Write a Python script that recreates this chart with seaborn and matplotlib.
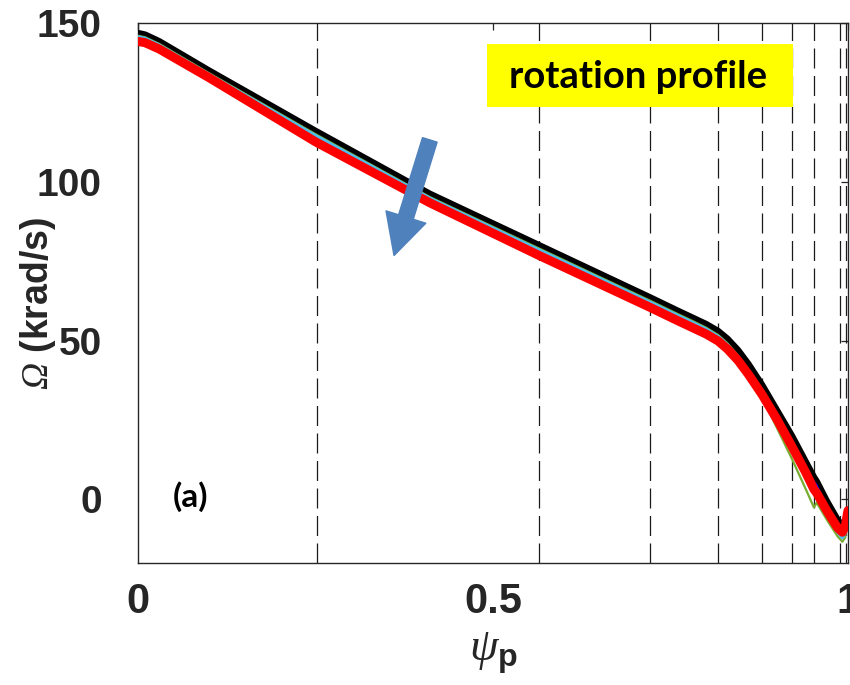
import matplotlib
matplotlib.use("Agg")
import matplotlib.pyplot as plt
import seaborn as sns
from matplotlib.patches import FancyArrowPatch, Rectangle

# ---------------- data ----------------
psi = [0, 0.01, 0.03, 0.1, 0.25, 0.411, 0.565, 0.721, 0.76, 0.78, 0.8, 0.817, 0.83,
       0.845, 0.86, 0.879, 0.9, 0.921, 0.94, 0.952, 0.956, 0.97, 0.985, 0.992,
       0.996, 1.0]

omega_black = [146.8, 146.3, 144.2, 135.0, 116.0, 96.2, 80.0, 63.6, 59.4, 57.3, 55.2, 53.0,
               50.6, 47.0, 42.5, 36.0, 28.0, 20.0, 12.0, 7.0, 5.6, -0.5, -6.3, -8.3,
               -7.0, -4.0]
omega_green = [146.0, 145.5, 143.4, 134.2, 115.0, 95.2, 79.0, 62.6, 58.4, 56.3, 54.1, 51.8,
               49.2, 45.3, 40.3, 32.0, 22.5, 12.8, 3.5, -2.5, -1.0, -6.3, -11.5, -13.3,
               -12.0, -6.0]
omega_cyan = [145.6, 145.1, 143.0, 133.8, 114.5, 94.8, 78.5, 62.1, 57.9, 55.8, 53.6, 51.3,
              48.7, 44.9, 40.2, 33.3, 24.6, 16.0, 7.8, 2.5, 1.5, -4.5, -10.0, -12.0,
              -10.5, -5.0]
omega_blue = [145.0, 144.6, 142.5, 133.2, 113.6, 94.2, 77.6, 61.3, 57.1, 55.0, 52.9, 50.7,
              48.2, 44.6, 40.2, 34.0, 26.2, 17.8, 9.8, 5.6, 4.5, -2.5, -8.0, -9.8,
              -8.0, -3.0]
omega_purple = [144.0, 143.5, 141.4, 132.4, 112.0, 92.8, 76.2, 59.9, 55.7, 53.6, 51.5, 49.3,
                46.8, 43.2, 38.8, 32.6, 24.8, 16.2, 8.2, 3.0, 1.5, -4.0, -9.3, -10.8,
                -9.0, -4.0]
omega_red = [144.2, 143.8, 141.8, 132.8, 112.6, 93.4, 76.8, 60.5, 56.3, 54.2, 52.1, 49.9,
             47.4, 43.8, 39.3, 33.0, 25.2, 16.7, 8.7, 3.2, 2.0, -3.5, -8.8, -10.3,
             -8.5, -3.5]

rational_psi = [0.252, 0.565, 0.721, 0.817, 0.879, 0.921, 0.952, 0.989, 0.997]

x_ticks = [0, 0.5, 1]
x_ticklabels = ["0", "0.5", "1"]
y_ticks = [0, 50, 100, 150]
y_ticklabels = ["0", "50", "100", "150"]

title_text = "rotation profile"
panel_text = "(a)"

# ---------------- style ----------------
sns.set_theme(style="white")
plt.rcParams["font.family"] = ["Liberation Sans", "DejaVu Sans"]
plt.rcParams["mathtext.fontset"] = "custom"
plt.rcParams["mathtext.it"] = "Liberation Serif:italic"
plt.rcParams["mathtext.rm"] = "Liberation Sans:bold"
plt.rcParams["mathtext.bf"] = "Liberation Sans:bold"
plt.rcParams["mathtext.sf"] = "Liberation Serif:italic"

fig = plt.figure(figsize=(8.5, 6.85), dpi=100)
ax = fig.add_axes([138 / 850, 1 - 563 / 685, 710 / 850, 540 / 685])

# dashed vertical lines
for xv in rational_psi:
    ax.axvline(xv, color="#1a1a1a", lw=0.9, ls=(0, (16, 6)), zorder=1)

series = [
    (omega_black, "#000000", 4.8),
    (omega_green, "#77ac30", 1.6),
    (omega_cyan, "#4dbeee", 2.6),
    (omega_blue, "#0000ff", 1.5),
    (omega_purple, "#7e2f8e", 1.5),
    (omega_red, "#ff0000", 6.5),
]
for vals, col, lw in series:
    sns.lineplot(x=psi, y=vals, color=col, lw=lw, ax=ax, legend=False,
                 sort=False, estimator=None, zorder=3)

ax.set_xlim(0, 1)
ax.set_ylim(-20, 150)

ax.set_xticks(x_ticks)
ax.set_xticklabels(x_ticklabels)
ax.set_yticks(y_ticks)
ax.set_yticklabels(y_ticklabels)
ax.tick_params(axis="both", direction="in", length=5, width=0.9, color="#262626",
               top=True, right=True, labelcolor="#262626")
ax.tick_params(axis="y", pad=26, labelsize=28)
ax.tick_params(axis="x", pad=14, labelsize=30)
for lab in ax.get_xticklabels() + ax.get_yticklabels():
    lab.set_fontweight("bold")

for sp in ax.spines.values():
    sp.set_visible(True)
    sp.set_color("#262626")
    sp.set_linewidth(1.0)

ax.set_ylabel(r"$\mathsf{\Omega}$ (krad/s)", fontsize=27, fontweight="bold",
              color="#262626")
ax.yaxis.set_label_coords(-0.112, 0.48)
ax.set_xlabel(r"$\psi_{\mathrm{p}}$", fontsize=33, color="#262626")
ax.xaxis.set_label_coords(0.5, -0.125)

# title box
fig.add_artist(Rectangle((487 / 850, 1 - 107 / 685), 306 / 850, 63 / 685,
                         transform=fig.transFigure, facecolor="#ffff00",
                         edgecolor="none", zorder=5))
fig.text(638 / 850, 1 - 88 / 685, title_text, ha="center", va="baseline",
         fontsize=27.5, fontweight="bold", family=["Lato", "DejaVu Sans"],
         color="black", zorder=6)

# panel label
ax.text(190 / 850, 1 - 497 / 685, panel_text, transform=fig.transFigure,
        ha="center", va="center", fontsize=24, fontweight="bold",
        family=["Lato", "DejaVu Sans"], color="black", zorder=6)

# trend arrow
arrow = FancyArrowPatch((0.411, 113.2), (0.3606, 76.8),
                        arrowstyle="simple,head_length=29,head_width=30,tail_width=11",
                        mutation_scale=1, color="#4f81bd", shrinkA=0, shrinkB=0,
                        zorder=7)
ax.add_patch(arrow)

fig.savefig("out.png", dpi=100)
